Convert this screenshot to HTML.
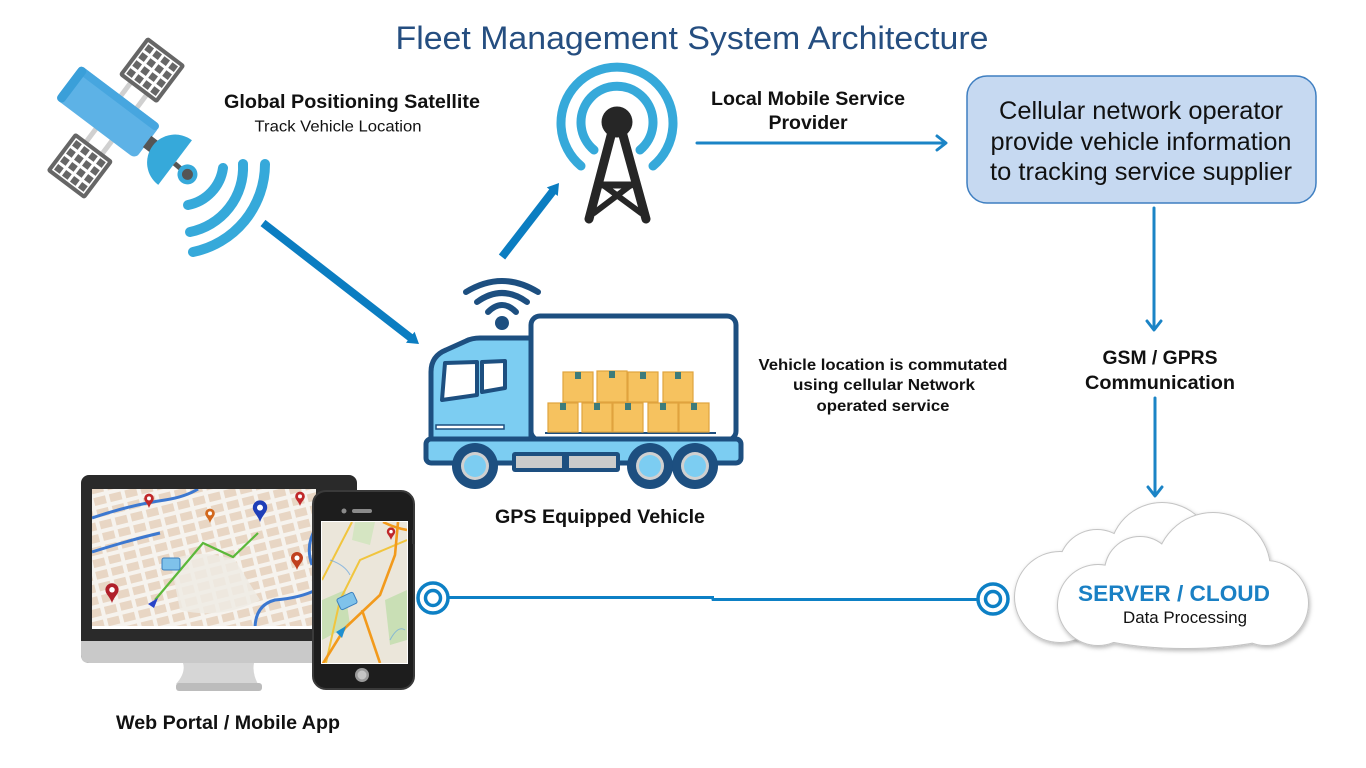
<!DOCTYPE html>
<html>
<head>
<meta charset="utf-8">
<style>
html,body{margin:0;padding:0;background:#fff;}
body{width:1366px;height:768px;overflow:hidden;}
svg{display:block;}
text{font-family:"Liberation Sans",Arial,sans-serif;}
.b{font-weight:bold;fill:#111;}
</style>
</head>
<body>
<svg width="1366" height="768" viewBox="0 0 1366 768" xmlns="http://www.w3.org/2000/svg">
<defs>
  <pattern id="cells" width="10" height="10" patternUnits="userSpaceOnUse">
    <rect width="10" height="10" fill="#fff"/>
    <rect x="1.5" y="1.5" width="7" height="7" fill="#666"/>
  </pattern>
  <pattern id="blocks" width="16" height="12" patternUnits="userSpaceOnUse" patternTransform="rotate(-14)">
    <rect width="16" height="12" fill="#f6f3ee"/>
    <rect x="2" y="2" width="12" height="8" fill="#e8d6c4"/>
  </pattern>
  <clipPath id="monclip"><rect x="92" y="489" width="224" height="140"/></clipPath>
  <clipPath id="phclip"><rect x="322" y="522" width="85" height="141"/></clipPath>
  <filter id="sh" x="-10%" y="-10%" width="125%" height="135%">
    <feDropShadow dx="1" dy="2" stdDeviation="2" flood-color="#000" flood-opacity="0.28"/>
  </filter>
</defs>

<!-- Title -->
<text x="692" y="49" font-size="32" fill="#254e80" text-anchor="middle" textLength="593" lengthAdjust="spacingAndGlyphs">Fleet Management System Architecture</text>

<!-- Satellite -->
<g transform="translate(108,112) rotate(37)">
  <rect x="-2" y="-37" width="5" height="17" fill="#d0d0d0"/>
  <rect x="18" y="-37" width="5" height="17" fill="#d0d0d0"/>
  <rect x="-2" y="20" width="5" height="17" fill="#d0d0d0"/>
  <rect x="18" y="20" width="5" height="17" fill="#d0d0d0"/>
  <rect x="-14" y="-84" width="48" height="48" rx="3" fill="#666"/>
  <rect x="-10" y="-80" width="40" height="40" fill="url(#cells)"/>
  <rect x="-14" y="36" width="48" height="48" rx="3" fill="#666"/>
  <rect x="-10" y="40" width="40" height="40" fill="url(#cells)"/>
  <rect x="-50" y="-21" width="100" height="42" rx="6" fill="#5db2e6"/>
  <rect x="-50" y="-21" width="100" height="8" rx="4" fill="#47a6df"/>
  <rect x="-50" y="-21" width="9" height="42" rx="4" fill="#3a9fd9"/>
  <rect x="49" y="-7" width="10" height="14" fill="#555"/>
  <path d="M84 -28 A28 28 0 0 0 84 28 Z" fill="#36a9da"/>
  <line x1="84" y1="1" x2="100" y2="2" stroke="#555" stroke-width="5"/>
  <circle cx="101" cy="2" r="10" fill="#36a9da"/>
  <circle cx="101" cy="2" r="5.5" fill="#555"/>
</g>
<g fill="none" stroke="#36a9da" stroke-width="10" stroke-linecap="round">
  <path d="M223 168 A44 44 0 0 1 188 205"/>
  <path d="M243 164 A66 66 0 0 1 190 232"/>
  <path d="M265 164 A90 90 0 0 1 193 252"/>
</g>

<text class="b" x="352" y="108" font-size="19.5" text-anchor="middle" textLength="256" lengthAdjust="spacingAndGlyphs">Global Positioning Satellite</text>
<text x="338" y="131.5" font-size="16" fill="#111" text-anchor="middle" textLength="167" lengthAdjust="spacingAndGlyphs">Track Vehicle Location</text>

<!-- Thick arrows -->
<g fill="#0b7dc1" stroke="none">
  <line x1="263" y1="223" x2="411" y2="338" stroke="#0b7dc1" stroke-width="8"/>
  <polygon points="419,344 406,342.8 414.6,331.8"/>
  <line x1="502" y1="257" x2="553" y2="191" stroke="#0b7dc1" stroke-width="8"/>
  <polygon points="559,183 557.8,196 546.8,187.4"/>
</g>

<!-- Tower -->
<g fill="none" stroke="#36a9da" stroke-width="9" stroke-linecap="round">
  <path d="M594 150 A36 36 0 1 1 640 150"/>
  <path d="M581 166 A56 56 0 1 1 653 166"/>
</g>
<g stroke="#262626" stroke-linecap="round" fill="none">
  <line x1="613" y1="128" x2="589" y2="219" stroke-width="9"/>
  <line x1="621" y1="128" x2="646" y2="219" stroke-width="9"/>
  <line x1="603" y1="185" x2="631" y2="185" stroke-width="7"/>
  <line x1="603" y1="185" x2="641" y2="213" stroke-width="6"/>
  <line x1="631" y1="185" x2="594" y2="213" stroke-width="6"/>
</g>
<circle cx="617" cy="122" r="15.5" fill="#262626"/>

<!-- Local mobile service -->
<text class="b" x="808" y="105" font-size="19.5" text-anchor="middle" textLength="194" lengthAdjust="spacingAndGlyphs">Local Mobile Service</text>
<text class="b" x="808" y="129" font-size="19.5" text-anchor="middle">Provider</text>
<g stroke="#1b84c6" stroke-width="3" fill="none" stroke-linecap="round" stroke-linejoin="round">
  <line x1="697" y1="143" x2="945" y2="143"/>
  <polyline points="937,136 946,143 937,150"/>
  <line x1="1154" y1="208" x2="1154" y2="329"/>
  <polyline points="1147,321 1154,330 1161,321"/>
  <line x1="1155" y1="398" x2="1155" y2="495"/>
  <polyline points="1148,487 1155,496 1162,487"/>
</g>

<!-- Operator box -->
<rect x="967" y="76" width="349" height="127" rx="20" fill="#c6d9f1" stroke="#3f7fc1" stroke-width="1.5"/>
<g font-size="25" fill="#111" text-anchor="middle">
  <text x="1141" y="119" textLength="284" lengthAdjust="spacingAndGlyphs">Cellular network operator</text>
  <text x="1141" y="150" textLength="301" lengthAdjust="spacingAndGlyphs">provide vehicle information</text>
  <text x="1141" y="180" textLength="302" lengthAdjust="spacingAndGlyphs">to tracking service supplier</text>
</g>

<!-- GSM -->
<text class="b" x="1160" y="364" font-size="19.5" text-anchor="middle" textLength="115" lengthAdjust="spacingAndGlyphs">GSM / GPRS</text>
<text class="b" x="1160" y="389" font-size="19.5" text-anchor="middle" textLength="150" lengthAdjust="spacingAndGlyphs">Communication</text>

<!-- Vehicle location text -->
<g class="b" font-size="16" text-anchor="middle">
  <text class="b" x="883" y="370" textLength="249" lengthAdjust="spacingAndGlyphs">Vehicle location is commutated</text>
  <text class="b" x="884" y="390" textLength="182" lengthAdjust="spacingAndGlyphs">using cellular Network</text>
  <text class="b" x="883" y="411" textLength="133" lengthAdjust="spacingAndGlyphs">operated service</text>
</g>

<!-- Truck -->
<g fill="none" stroke="#1d4f80" stroke-width="6" stroke-linecap="round">
  <path d="M466 292 Q502 270 538 292"/>
  <path d="M477 302 Q502 284 527 302"/>
  <path d="M488 312 Q502 298 516 312"/>
</g>
<circle cx="502" cy="323" r="7" fill="#1d4f80"/>
<rect x="531" y="316" width="205" height="124" rx="9" fill="#fff" stroke="#1d4f80" stroke-width="5"/>
<path d="M431 440 L431 372 Q431 356 446 350 L466 341 Q472 338 480 338 L531 338 L531 440 Z" fill="#7ccdf2" stroke="#1d4f80" stroke-width="5" stroke-linejoin="round"/>
<path d="M445 363 L477 362 L477 395 L442 400 Z" fill="#fff" stroke="#1d4f80" stroke-width="4" stroke-linejoin="round"/>
<path d="M482 362 L505 361 L505 388 L482 392 Z" fill="#fff" stroke="#1d4f80" stroke-width="4" stroke-linejoin="round"/>
<rect x="436" y="425" width="68" height="4" fill="#fff" stroke="#1d4f80" stroke-width="1.5"/>
<line x1="545" y1="433" x2="716" y2="433" stroke="#1d4f80" stroke-width="2"/>
<g fill="#f6c25f" stroke="#e0a33e" stroke-width="1.2">
  <rect x="563" y="372" width="30" height="30"/>
  <rect x="597" y="371" width="30" height="31"/>
  <rect x="628" y="372" width="30" height="30"/>
  <rect x="663" y="372" width="30" height="30"/>
  <rect x="548" y="403" width="30" height="29"/>
  <rect x="582" y="403" width="30" height="29"/>
  <rect x="613" y="403" width="30" height="29"/>
  <rect x="648" y="403" width="30" height="29"/>
  <rect x="679" y="403" width="30" height="29"/>
</g>
<g fill="#3d7b7a">
  <rect x="575" y="372" width="6" height="7"/>
  <rect x="609" y="371" width="6" height="7"/>
  <rect x="640" y="372" width="6" height="7"/>
  <rect x="675" y="372" width="6" height="7"/>
  <rect x="560" y="403" width="6" height="7"/>
  <rect x="594" y="403" width="6" height="7"/>
  <rect x="625" y="403" width="6" height="7"/>
  <rect x="660" y="403" width="6" height="7"/>
  <rect x="691" y="403" width="6" height="7"/>
</g>
<rect x="426" y="439" width="315" height="24" rx="5" fill="#7ccdf2" stroke="#1d4f80" stroke-width="5"/>
<rect x="512" y="452" width="108" height="20" rx="3" fill="#1d4f80"/>
<rect x="516" y="456" width="46" height="12" fill="#cbcbcb"/>
<rect x="569" y="456" width="47" height="12" fill="#cbcbcb"/>
<g>
  <circle cx="475" cy="466" r="23" fill="#1d4f80"/>
  <circle cx="475" cy="466" r="14" fill="#d0d0d0"/>
  <circle cx="475" cy="466" r="11" fill="#7ccdf2"/>
  <circle cx="650" cy="466" r="23" fill="#1d4f80"/>
  <circle cx="650" cy="466" r="14" fill="#d0d0d0"/>
  <circle cx="650" cy="466" r="11" fill="#7ccdf2"/>
  <circle cx="695" cy="466" r="23" fill="#1d4f80"/>
  <circle cx="695" cy="466" r="14" fill="#d0d0d0"/>
  <circle cx="695" cy="466" r="11" fill="#7ccdf2"/>
</g>
<text class="b" x="600" y="523" font-size="19.5" text-anchor="middle" textLength="210" lengthAdjust="spacingAndGlyphs">GPS Equipped Vehicle</text>

<!-- Monitor -->
<rect x="81" y="475" width="276" height="188" rx="8" fill="#2a2a2a"/>
<path d="M81 641 L357 641 L357 655 Q357 663 349 663 L89 663 Q81 663 81 655 Z" fill="#c9c9c9"/>
<path d="M183 663 L254 663 Q252 673 258 684 L176 684 Q186 673 183 663 Z" fill="#d6d6d6"/>
<rect x="176" y="683" width="86" height="8" rx="3" fill="#bcbcbc"/>
<g clip-path="url(#monclip)">
  <rect x="92" y="489" width="224" height="140" fill="url(#blocks)"/>
  <path d="M170 560 Q200 548 235 560 L260 600 Q220 620 180 610 Z" fill="#efebe4" opacity="0.85"/>
  <g fill="none" stroke="#3c78d0" stroke-width="3">
    <path d="M92 518 Q130 505 165 500 Q185 497 198 489"/>
    <path d="M92 552 Q130 540 160 533"/>
    <path d="M316 528 Q305 545 312 565"/>
    <path d="M255 629 Q255 605 275 600 Q300 598 316 590"/>
  </g>
  <polyline points="155,600 203,543 233,557 258,533" fill="none" stroke="#5cb83a" stroke-width="2.2"/>
  <path d="M148 604 L158 598 L154 608 Z" fill="#2a44c8"/>
  <rect x="162" y="558" width="18" height="12" rx="2" fill="#7fc2ea" stroke="#3a7fbf" stroke-width="1"/>
  <g transform="translate(260,522) scale(1.2)"><path d="M0 0 C-2 -6 -6 -8 -6 -12 A6 6 0 1 1 6 -12 C6 -8 2 -6 0 0Z" fill="#1f3fb8"/><circle cy="-12" r="2.5" fill="#fff"/></g>
  <g transform="translate(149,508) scale(0.8)"><path d="M0 0 C-2 -6 -6 -8 -6 -12 A6 6 0 1 1 6 -12 C6 -8 2 -6 0 0Z" fill="#c0282a"/><circle cy="-12" r="2.5" fill="#fff"/></g>
  <g transform="translate(210,523) scale(0.8)"><path d="M0 0 C-2 -6 -6 -8 -6 -12 A6 6 0 1 1 6 -12 C6 -8 2 -6 0 0Z" fill="#d2691e"/><circle cy="-12" r="2.5" fill="#fff"/></g>
  <g transform="translate(300,506) scale(0.8)"><path d="M0 0 C-2 -6 -6 -8 -6 -12 A6 6 0 1 1 6 -12 C6 -8 2 -6 0 0Z" fill="#c0282a"/><circle cy="-12" r="2.5" fill="#fff"/></g>
  <g transform="translate(297,570) scale(1)"><path d="M0 0 C-2 -6 -6 -8 -6 -12 A6 6 0 1 1 6 -12 C6 -8 2 -6 0 0Z" fill="#c0401e"/><circle cy="-12" r="2.5" fill="#fff"/></g>
  <g transform="translate(112,603) scale(1.1)"><path d="M0 0 C-2 -6 -6 -8 -6 -12 A6 6 0 1 1 6 -12 C6 -8 2 -6 0 0Z" fill="#b0202a"/><circle cy="-12" r="2.5" fill="#fff"/></g>
</g>
<rect x="92" y="626" width="224" height="3" fill="#fff"/>

<!-- Phone -->
<rect x="313" y="491" width="101" height="198" rx="13" fill="#1d1d1d" stroke="#3a3a3a" stroke-width="2"/>
<rect x="412" y="530" width="3" height="14" fill="#333"/>
<circle cx="344" cy="511" r="2.5" fill="#8a8a8a"/>
<rect x="352" y="509" width="20" height="4" rx="2" fill="#8a8a8a"/>
<circle cx="362" cy="675" r="7" fill="#9a9a9a"/>
<circle cx="362" cy="675" r="4.5" fill="#c4c4c4"/>
<rect x="321" y="521" width="87" height="143" fill="#fff"/>
<g clip-path="url(#phclip)">
  <rect x="322" y="522" width="85" height="141" fill="#ebe6da"/>
  <path d="M322 600 L345 590 L350 625 L322 640 Z" fill="#c9dfb5"/>
  <path d="M385 600 L407 590 L407 640 L390 645 Z" fill="#c9dfb5"/>
  <path d="M355 522 L375 522 L370 545 L352 540 Z" fill="#d5e5c2"/>
  <g fill="none" stroke="#f1c53e" stroke-width="2">
    <path d="M322 580 L352 522"/>
    <path d="M326 663 L340 600 L360 560 L407 540"/>
  </g>
  <g fill="none" stroke="#f29a1c" stroke-width="2.6">
    <path d="M322 665 L345 628 L380 595 L395 555 L398 522"/>
    <path d="M383 522 Q395 528 407 530"/>
    <path d="M362 610 L380 663"/>
  </g>
  <g fill="none" stroke="#6aa6e0" stroke-width="1" opacity="0.7">
    <path d="M330 560 Q345 565 350 575"/>
    <path d="M390 640 Q398 625 405 630"/>
  </g>
  <rect x="338" y="595" width="18" height="12" rx="2" fill="#7fc2ea" stroke="#3a7fbf" stroke-width="1" transform="rotate(-25 347 601)"/>
  <path d="M336 632 L346 626 L342 638 Z" fill="#1e8fd0"/>
  <g transform="translate(391,540) scale(0.7)"><path d="M0 0 C-2 -6 -6 -8 -6 -12 A6 6 0 1 1 6 -12 C6 -8 2 -6 0 0Z" fill="#c0282a"/><circle cy="-12" r="2.5" fill="#fff"/></g>
</g>
<text class="b" x="228" y="729" font-size="19.5" text-anchor="middle" textLength="224" lengthAdjust="spacingAndGlyphs">Web Portal / Mobile App</text>

<!-- Connector -->
<g stroke="#0d80c5" fill="none">
  <line x1="448" y1="597.5" x2="714" y2="597.5" stroke-width="3"/>
  <line x1="712.5" y1="597" x2="712.5" y2="600.5" stroke-width="2"/>
  <line x1="712" y1="599.5" x2="978" y2="599.5" stroke-width="3"/>
  <circle cx="433" cy="598" r="15" stroke-width="3.5" fill="#fff"/>
  <circle cx="433" cy="598" r="7.5" stroke-width="3.5"/>
  <circle cx="993" cy="599" r="15" stroke-width="3.5" fill="#fff"/>
  <circle cx="993" cy="599" r="7.5" stroke-width="3.5"/>
</g>

<!-- Clouds -->
<g filter="url(#sh)">
  <g fill="none" stroke="#c4c4c4" stroke-width="2">
    <circle cx="1060" cy="597" r="45"/>
    <circle cx="1097" cy="568" r="38"/>
    <circle cx="1162" cy="555" r="52"/>
    <ellipse cx="1135" cy="605" rx="100" ry="30"/>
  </g>
  <g fill="#fff">
    <circle cx="1060" cy="597" r="45"/>
    <circle cx="1097" cy="568" r="38"/>
    <circle cx="1162" cy="555" r="52"/>
    <ellipse cx="1135" cy="605" rx="100" ry="30"/>
  </g>
</g>
<g filter="url(#sh)">
  <g fill="none" stroke="#c4c4c4" stroke-width="2">
    <circle cx="1098" cy="605" r="40"/>
    <circle cx="1140" cy="572" r="35"/>
    <circle cx="1213" cy="570" r="57"/>
    <circle cx="1266" cy="603" r="42"/>
    <ellipse cx="1185" cy="620" rx="115" ry="28"/>
  </g>
  <g fill="#fff">
    <circle cx="1098" cy="605" r="40"/>
    <circle cx="1140" cy="572" r="35"/>
    <circle cx="1213" cy="570" r="57"/>
    <circle cx="1266" cy="603" r="42"/>
    <ellipse cx="1185" cy="620" rx="115" ry="28"/>
  </g>
</g>
<text x="1174" y="601" font-size="22.5" font-weight="bold" fill="#1a80c4" text-anchor="middle" textLength="192" lengthAdjust="spacingAndGlyphs">SERVER / CLOUD</text>
<text x="1185" y="623" font-size="16.5" fill="#111" text-anchor="middle" textLength="124" lengthAdjust="spacingAndGlyphs">Data Processing</text>
</svg>
</body>
</html>
